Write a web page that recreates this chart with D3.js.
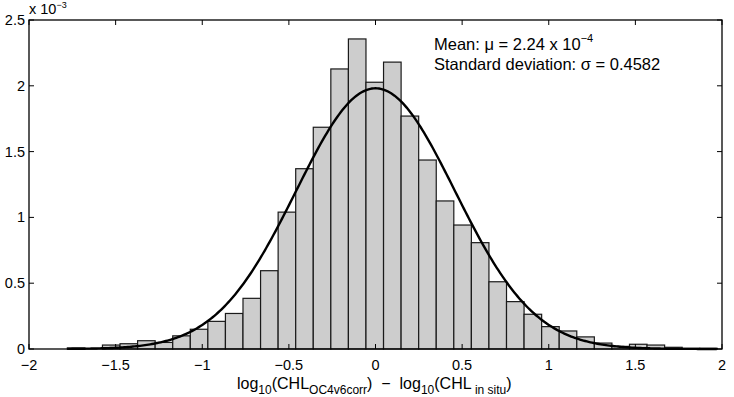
<!DOCTYPE html>
<html>
<head>
<meta charset="utf-8">
<script src="https://cdn.jsdelivr.net/npm/d3@7"></script>
<style>
  body { margin: 0; background: #fff; }
  svg { display: block; font-family: "Liberation Sans", Arial, sans-serif; }
</style>
</head>
<body>
<svg id="chart"></svg>
<script>
// Histogram bin centres (log10 difference) and frequencies (x 10^-3)
const binCenters = [
  -1.7281, -1.6267, -1.5253, -1.4239, -1.3225, -1.2211, -1.1197, -1.0183,
  -0.9169, -0.8155, -0.7141, -0.6127, -0.5113, -0.4099, -0.3085, -0.2071,
  -0.1057, -0.0043, 0.0971, 0.1985, 0.2999, 0.4013, 0.5027, 0.6041,
  0.7055, 0.8069, 0.9083, 1.0097, 1.1111, 1.2125, 1.3139, 1.4153,
  1.5167, 1.6181, 1.7195, 1.8209, 1.9223
];
const binValues = [
  0.008, 0, 0.03, 0.04, 0.063, 0.05, 0.10, 0.15,
  0.21, 0.27, 0.385, 0.595, 1.04, 1.37, 1.685, 2.128,
  2.356, 2.027, 2.18, 1.77, 1.436, 1.125, 0.942, 0.808,
  0.511, 0.36, 0.264, 0.17, 0.137, 0.092, 0.045, 0.02,
  0.036, 0.03, 0.013, 0.005, 0.005
];
const binWidth = 0.1014;

// Fitted normal distribution (from the annotation)
const mu = 2.24e-4;
const sigma = 0.4582;
const fitPeak = 1.981;            // peak height of the fit, x 10^-3
const fitRange = [-1.78, 1.97];   // data range the fit is drawn over

const xTicks = [-2, -1.5, -1, -0.5, 0, 0.5, 1, 1.5, 2];
const yTicks = [0, 0.5, 1, 1.5, 2, 2.5];

const width = 734;
const height = 397;
const margin = { top: 20, right: 12, bottom: 48, left: 29 };

const svg = d3.select("#chart")
  .attr("width", width)
  .attr("height", height);

const x = d3.scaleLinear().domain([-2, 2]).range([margin.left, width - margin.right]);
const y = d3.scaleLinear().domain([0, 2.5]).range([height - margin.bottom, margin.top]);

// Bars
svg.append("g")
  .selectAll("rect")
  .data(binCenters.map((c, i) => ({ c, v: binValues[i] })))
  .enter().append("rect")
  .attr("x", d => x(d.c - binWidth / 2))
  .attr("y", d => y(d.v))
  .attr("width", d => x(d.c + binWidth / 2) - x(d.c - binWidth / 2))
  .attr("height", d => y(0) - y(d.v))
  .attr("fill", "#cdcdcd")
  .attr("stroke", "#1a1a1a")
  .attr("stroke-width", 1.2);

// Normal fit curve
const curveX = d3.range(fitRange[0], fitRange[1] + 0.001, 0.01);
const line = d3.line()
  .x(d => x(d))
  .y(d => y(fitPeak * Math.exp(-0.5 * Math.pow((d - mu) / sigma, 2))));
svg.append("path")
  .datum(curveX)
  .attr("d", line)
  .attr("fill", "none")
  .attr("stroke", "#000")
  .attr("stroke-width", 2.4);

// Box and inward ticks
const [x0, x1] = x.range();
const [y0, y1] = y.range();
svg.append("rect")
  .attr("x", x0).attr("y", y1)
  .attr("width", x1 - x0).attr("height", y0 - y1)
  .attr("fill", "none").attr("stroke", "#000").attr("stroke-width", 1.3);

const tickLen = 5;
const ticks = svg.append("g").attr("stroke", "#000").attr("stroke-width", 1);
xTicks.forEach(t => {
  ticks.append("line").attr("x1", x(t)).attr("x2", x(t)).attr("y1", y0).attr("y2", y0 - tickLen);
  ticks.append("line").attr("x1", x(t)).attr("x2", x(t)).attr("y1", y1).attr("y2", y1 + tickLen);
});
yTicks.forEach(t => {
  ticks.append("line").attr("x1", x0).attr("x2", x0 + tickLen).attr("y1", y(t)).attr("y2", y(t));
  ticks.append("line").attr("x1", x1).attr("x2", x1 - tickLen).attr("y1", y(t)).attr("y2", y(t));
});

const fmt = t => String(t).replace("-", "\u2212");

// Tick labels
svg.append("g")
  .selectAll("text")
  .data(xTicks)
  .enter().append("text")
  .attr("x", d => x(d))
  .attr("y", y0 + 21)
  .attr("text-anchor", "middle")
  .attr("font-size", 14.5)
  .text(fmt);

svg.append("g")
  .selectAll("text")
  .data(yTicks)
  .enter().append("text")
  .attr("x", x0 - 4)
  .attr("y", d => y(d) + 5)
  .attr("text-anchor", "end")
  .attr("font-size", 14.5)
  .text(fmt);

// Exponent label
const expo = svg.append("text")
  .attr("x", x0)
  .attr("y", 14)
  .attr("font-size", 14.5);
expo.append("tspan").text("x 10");
expo.append("tspan").attr("font-size", 9).attr("dy", -6).text("\u22123");

// Annotation
const ann = svg.append("g").attr("font-size", 16.5);
const meanText = ann.append("text").attr("x", 434).attr("y", 50);
meanText.append("tspan").text("Mean: \u03bc = 2.24 x 10");
meanText.append("tspan").attr("font-size", 11).attr("dy", -8).text("\u22124");
ann.append("text").attr("x", 434).attr("y", 70)
  .text("Standard deviation: \u03c3 = 0.4582");

// X-axis label
const xl = svg.append("text")
  .attr("x", 237)
  .attr("y", 389)
  .attr("font-size", 16);
xl.append("tspan").text("log");
xl.append("tspan").attr("font-size", 12).attr("dy", 5).text("10");
xl.append("tspan").attr("dy", -5).text("(CHL");
xl.append("tspan").attr("font-size", 12).attr("dy", 5).text("OC4v6corr");
xl.append("tspan").attr("dy", -5).text(")\u00a0\u00a0\u2212\u00a0\u00a0log");
xl.append("tspan").attr("font-size", 12).attr("dy", 5).text("10");
xl.append("tspan").attr("dy", -5).text("(CHL");
xl.append("tspan").attr("font-size", 12).attr("dy", 5).text("\u00a0in situ");
xl.append("tspan").attr("dy", -5).text(")");
</script>
</body>
</html>
